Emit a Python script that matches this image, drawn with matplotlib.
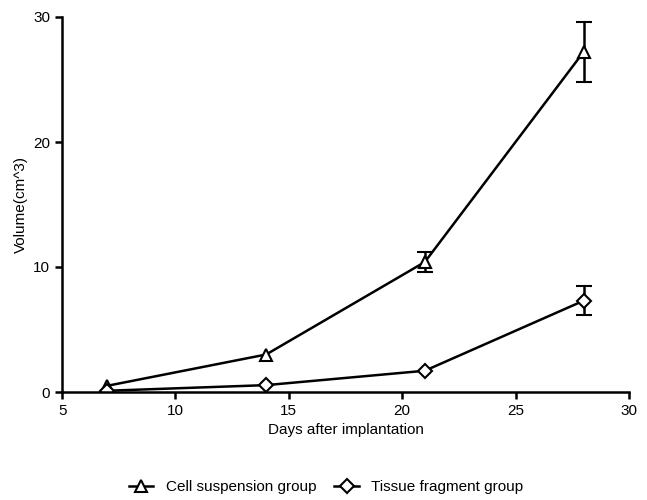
import matplotlib
matplotlib.use('Agg')
import matplotlib.pyplot as plt
from matplotlib.lines import Line2D

plt.rcParams['font.family'] = ['Liberation Sans', 'DejaVu Sans']

days = [7, 14, 21, 28]
cell_mean = [0.5, 3.0, 10.4, 27.2]
cell_err = [float('nan'), float('nan'), 0.8, 2.4]   # first two hidden behind markers
tissue_mean = [0.1, 0.55, 1.7, 7.3]
tissue_err = [float('nan'), float('nan'), float('nan'), 1.15]

fig = plt.figure(figsize=(6.47, 5.0), dpi=100)
ax = fig.add_axes([0.096, 0.216, 0.876, 0.75])

ax.errorbar(days, cell_mean, yerr=cell_err, color='black', lw=1.8,
            marker='^', markersize=8, markerfacecolor='white', markeredgewidth=1.5,
            capsize=6, capthick=1.8, elinewidth=1.8)
ax.errorbar(days, tissue_mean, yerr=tissue_err, color='black', lw=1.8,
            marker='D', markersize=7, markerfacecolor='white', markeredgewidth=1.5,
            capsize=6, capthick=1.8, elinewidth=1.8)

ax.set_xlim(5, 30)
ax.set_ylim(0, 30)
ax.set_xticks([5, 10, 15, 20, 25, 30])
ax.set_yticks([0, 10, 20, 30])
ax.spines['top'].set_visible(False)
ax.spines['right'].set_visible(False)
ax.spines['left'].set_linewidth(1.8)
ax.spines['bottom'].set_linewidth(1.8)
ax.tick_params(direction='out', width=1.8, length=5, labelsize=11)
ax.set_xlabel('Days after implantation', fontsize=11)
ax.set_ylabel('Volume(cm^3)', fontsize=11)

handles = [
    Line2D([], [], color='black', lw=1.8, marker='^', markersize=8,
           markerfacecolor='white', markeredgewidth=1.5),
    Line2D([], [], color='black', lw=1.8, marker='D', markersize=7,
           markerfacecolor='white', markeredgewidth=1.5),
]
fig.legend(handles, ['Cell suspension group', 'Tissue fragment group'],
           loc='center', bbox_to_anchor=(0.504, 0.026), ncol=2, frameon=False,
           fontsize=11, handlelength=1.6, columnspacing=1.2)

fig.savefig('out.png', dpi=100)
